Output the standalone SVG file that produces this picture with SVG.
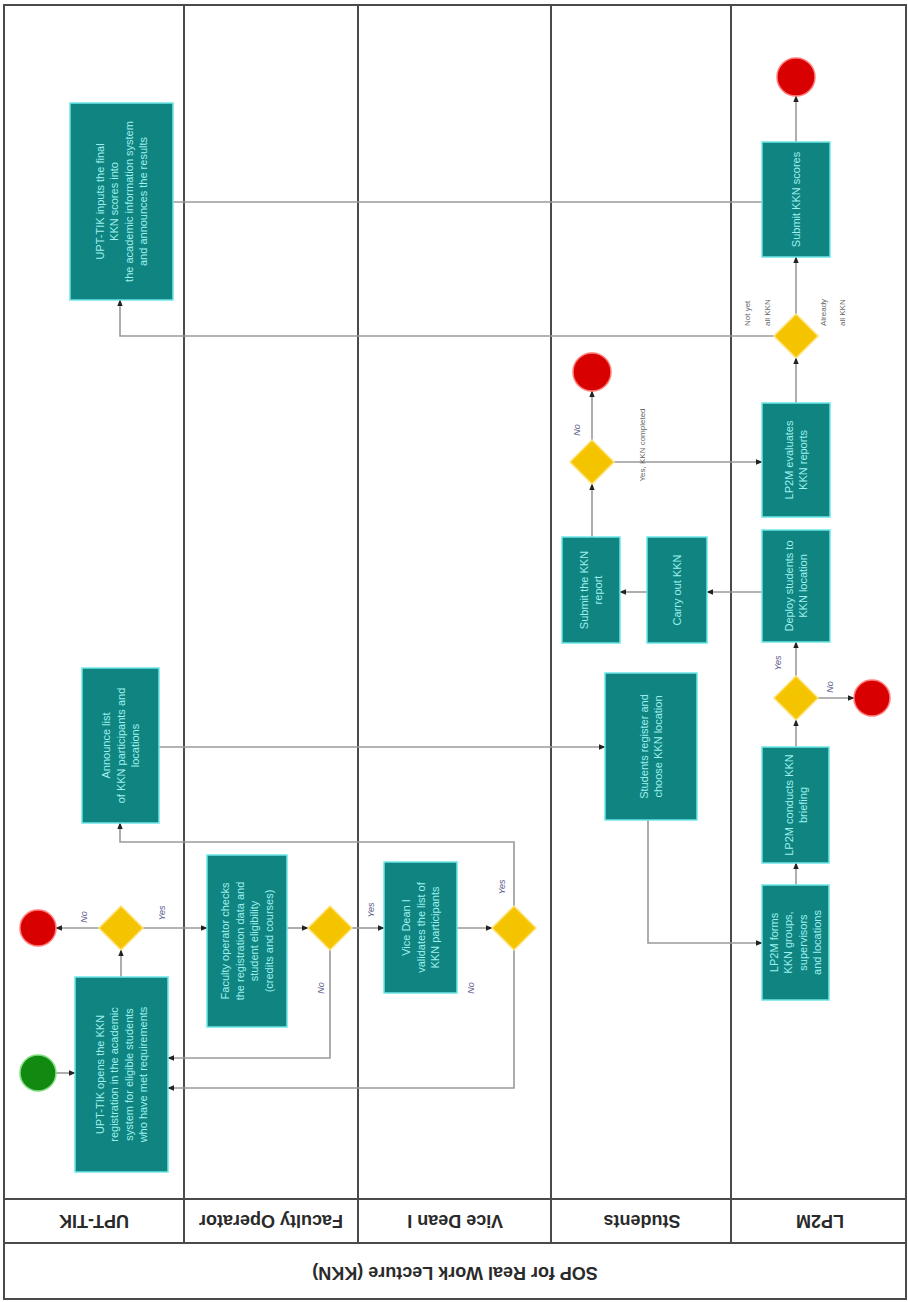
<svg xmlns="http://www.w3.org/2000/svg" width="908" height="1302" viewBox="0 0 908 1302">
<style>
.frame{fill:none;stroke:#4a4a4a;stroke-width:2}
.lane{stroke:#4a4a4a;stroke-width:2;fill:none}
.box{fill:#0f8480;stroke:#6ee6e6;stroke-width:1.5}
.bt{font-family:'Liberation Sans',Arial,sans-serif;font-size:11px;fill:#9ff0ee}
.dia{fill:#f4c400;stroke:#ffe27a;stroke-width:1.5}
.end{fill:#d80000;stroke:#ff7a7a;stroke-width:1.5}
.start{fill:#128a12;stroke:#7fe07f;stroke-width:1.5}
.cn{fill:none;stroke:#9a9a9a;stroke-width:1.6}
.lbl{font-family:'Liberation Sans',Arial,sans-serif;font-size:9px;font-style:italic;fill:#5a5a8a}
.sl{font-family:'Liberation Sans',Arial,sans-serif;font-size:8px;fill:#666}
.hdr{font-family:'Liberation Sans',Arial,sans-serif;font-size:18px;font-weight:bold;fill:#2a2a2a}
</style>
<defs>
<marker id="ah" viewBox="0 0 10 10" refX="9" refY="5" markerWidth="7" markerHeight="7" orient="auto" markerUnits="userSpaceOnUse"><path d="M0,1 L10,5 L0,9 z" fill="#222"/></marker>
</defs>
<rect width="908" height="1302" fill="#ffffff"/>
<g id="pool">
<rect class="frame" x="4" y="5" width="902" height="1294"/>
<line class="lane" x1="184" y1="5" x2="184" y2="1243"/>
<line class="lane" x1="358" y1="5" x2="358" y2="1243"/>
<line class="lane" x1="551" y1="5" x2="551" y2="1243"/>
<line class="lane" x1="731" y1="5" x2="731" y2="1243"/>
<line class="lane" x1="4" y1="1199" x2="906" y2="1199"/>
<line class="lane" x1="4" y1="1243" x2="906" y2="1243"/>
<text class="hdr" x="94" y="1221" text-anchor="middle" dominant-baseline="central" transform="rotate(180 94 1221)">UPT-TIK</text>
<text class="hdr" x="271" y="1221" text-anchor="middle" dominant-baseline="central" transform="rotate(180 271 1221)">Faculty Operator</text>
<text class="hdr" x="455" y="1221" text-anchor="middle" dominant-baseline="central" transform="rotate(180 455 1221)">Vice Dean I</text>
<text class="hdr" x="642" y="1221" text-anchor="middle" dominant-baseline="central" transform="rotate(180 642 1221)">Students</text>
<text class="hdr" x="820" y="1221" text-anchor="middle" dominant-baseline="central" transform="rotate(180 820 1221)">LP2M</text>
<text class="hdr" x="455" y="1273" text-anchor="middle" dominant-baseline="central" transform="rotate(180 455 1273)">SOP for Real Work Lecture (KKN)</text>
</g>
<g id="connectors">
<path class="cn" d="M56,1073 H75" marker-end="url(#ah)"/>
<path class="cn" d="M121,977 V950" marker-end="url(#ah)"/>
<path class="cn" d="M99,928 H56" marker-end="url(#ah)"/>
<path class="cn" d="M143,928 H207" marker-end="url(#ah)"/>
<path class="cn" d="M287,928 H308" marker-end="url(#ah)"/>
<path class="cn" d="M352,928 H384" marker-end="url(#ah)"/>
<path class="cn" d="M330,950 V1058 H168" marker-end="url(#ah)"/>
<path class="cn" d="M457,928 H492" marker-end="url(#ah)"/>
<path class="cn" d="M514,950 V1088 H168" marker-end="url(#ah)"/>
<path class="cn" d="M514,906 V842 H120 V823" marker-end="url(#ah)"/>
<path class="cn" d="M159,747 H605" marker-end="url(#ah)"/>
<path class="cn" d="M648,820 V943 H762" marker-end="url(#ah)"/>
<path class="cn" d="M796,885 V863" marker-end="url(#ah)"/>
<path class="cn" d="M796,747 V720" marker-end="url(#ah)"/>
<path class="cn" d="M818,698 H854" marker-end="url(#ah)"/>
<path class="cn" d="M796,676 V642" marker-end="url(#ah)"/>
<path class="cn" d="M762,592 H707" marker-end="url(#ah)"/>
<path class="cn" d="M647,592 H620" marker-end="url(#ah)"/>
<path class="cn" d="M592,537 V484" marker-end="url(#ah)"/>
<path class="cn" d="M592,440 V391" marker-end="url(#ah)"/>
<path class="cn" d="M614,462 H762" marker-end="url(#ah)"/>
<path class="cn" d="M796,403 V358" marker-end="url(#ah)"/>
<path class="cn" d="M796,314 V257" marker-end="url(#ah)"/>
<path class="cn" d="M796,142 V96" marker-end="url(#ah)"/>
<path class="cn" d="M774,336 H120 V300" marker-end="url(#ah)"/>
<path class="cn" d="M173,202 H762"/>
<text class="lbl" transform="translate(84,917) rotate(-90)" text-anchor="middle" dominant-baseline="central">No</text>
<text class="lbl" transform="translate(162,913) rotate(-90)" text-anchor="middle" dominant-baseline="central">Yes</text>
<text class="lbl" transform="translate(371,910) rotate(-90)" text-anchor="middle" dominant-baseline="central">Yes</text>
<text class="lbl" transform="translate(321,988) rotate(-90)" text-anchor="middle" dominant-baseline="central">No</text>
<text class="lbl" transform="translate(502,887) rotate(-90)" text-anchor="middle" dominant-baseline="central">Yes</text>
<text class="lbl" transform="translate(471,988) rotate(-90)" text-anchor="middle" dominant-baseline="central">No</text>
<text class="lbl" transform="translate(778,663) rotate(-90)" text-anchor="middle" dominant-baseline="central">Yes</text>
<text class="lbl" transform="translate(830,687) rotate(-90)" text-anchor="middle" dominant-baseline="central">No</text>
<text class="lbl" transform="translate(577,430) rotate(-90)" text-anchor="middle" dominant-baseline="central">No</text>
<text class="sl" transform="translate(642,445) rotate(-90)" text-anchor="middle" dominant-baseline="central">Yes, KKN completed</text>
<text class="sl" transform="translate(747,326) rotate(-90)" text-anchor="start" dominant-baseline="central">Not yet</text>
<text class="sl" transform="translate(767,326) rotate(-90)" text-anchor="start" dominant-baseline="central">all KKN</text>
<text class="sl" transform="translate(823,326) rotate(-90)" text-anchor="start" dominant-baseline="central">Already</text>
<text class="sl" transform="translate(842,326) rotate(-90)" text-anchor="start" dominant-baseline="central">all KKN</text>
</g>
<g id="start"><circle class="start" cx="38" cy="1073" r="18"/></g>
<g id="end-upt"><circle class="end" cx="38" cy="928" r="18"/></g>
<g id="end-lp2m-brief"><circle class="end" cx="872" cy="698" r="18"/></g>
<g id="end-students"><circle class="end" cx="592" cy="372" r="19"/></g>
<g id="end-final"><circle class="end" cx="796" cy="77" r="19"/></g>
<g id="gw-upt"><polygon class="dia" points="121,906 143,928 121,950 99,928"/></g>
<g id="gw-faculty"><polygon class="dia" points="330,906 352,928 330,950 308,928"/></g>
<g id="gw-vicedean"><polygon class="dia" points="514,906 536,928 514,950 492,928"/></g>
<g id="gw-lp2m-brief"><polygon class="dia" points="796,676 818,698 796,720 774,698"/></g>
<g id="gw-students"><polygon class="dia" points="592,440 614,462 592,484 570,462"/></g>
<g id="gw-lp2m-score"><polygon class="dia" points="796,314 818,336 796,358 774,336"/></g>
<g id="upt-open">
<rect class="box" x="75" y="977" width="93" height="195"/>
<text class="bt" transform="translate(121.5,1074.5) rotate(-90)" text-anchor="middle"><tspan x="0" y="-18">UPT-TIK opens the KKN</tspan><tspan x="0" y="-3.5">registration in the academic</tspan><tspan x="0" y="11">system for eligible students</tspan><tspan x="0" y="25.5">who have met requirements</tspan></text>
</g>
<g id="faculty-check">
<rect class="box" x="207" y="855" width="80" height="172"/>
<text class="bt" transform="translate(247,941) rotate(-90)" text-anchor="middle"><tspan x="0" y="-18">Faculty operator checks</tspan><tspan x="0" y="-3.5">the registration data and</tspan><tspan x="0" y="11">student eligibility</tspan><tspan x="0" y="25.5">(credits and courses)</tspan></text>
</g>
<g id="vicedean-validate">
<rect class="box" x="384" y="862" width="73" height="131"/>
<text class="bt" transform="translate(420.5,927.5) rotate(-90)" text-anchor="middle"><tspan x="0" y="-10.5">Vice Dean I</tspan><tspan x="0" y="4">validates the list of</tspan><tspan x="0" y="18.5">KKN participants</tspan></text>
</g>
<g id="upt-announce">
<rect class="box" x="82" y="668" width="77" height="155"/>
<text class="bt" transform="translate(120.5,745.5) rotate(-90)" text-anchor="middle"><tspan x="0" y="-10.5">Announce list</tspan><tspan x="0" y="4">of KKN participants and</tspan><tspan x="0" y="18.5">locations</tspan></text>
</g>
<g id="students-register">
<rect class="box" x="605" y="673" width="92" height="147"/>
<text class="bt" transform="translate(651,746.5) rotate(-90)" text-anchor="middle"><tspan x="0" y="-3">Students register and</tspan><tspan x="0" y="11">choose KKN location</tspan></text>
</g>
<g id="lp2m-groups">
<rect class="box" x="762" y="885" width="67" height="115"/>
<text class="bt" transform="translate(795.5,942.5) rotate(-90)" text-anchor="middle"><tspan x="0" y="-18">LP2M forms</tspan><tspan x="0" y="-3.5">KKN groups,</tspan><tspan x="0" y="11">supervisors</tspan><tspan x="0" y="25.5">and locations</tspan></text>
</g>
<g id="lp2m-briefing">
<rect class="box" x="762" y="747" width="67" height="116"/>
<text class="bt" transform="translate(795.5,805) rotate(-90)" text-anchor="middle"><tspan x="0" y="-3">LP2M conducts KKN</tspan><tspan x="0" y="11">briefing</tspan></text>
</g>
<g id="lp2m-deploy">
<rect class="box" x="762" y="530" width="68" height="112"/>
<text class="bt" transform="translate(796,586) rotate(-90)" text-anchor="middle"><tspan x="0" y="-3">Deploy students to</tspan><tspan x="0" y="11">KKN location</tspan></text>
</g>
<g id="students-carry-out">
<rect class="box" x="647" y="537" width="60" height="106"/>
<text class="bt" transform="translate(677,590) rotate(-90)" text-anchor="middle"><tspan x="0" y="4">Carry out KKN</tspan></text>
</g>
<g id="students-report">
<rect class="box" x="562" y="537" width="58" height="106"/>
<text class="bt" transform="translate(591,590) rotate(-90)" text-anchor="middle"><tspan x="0" y="-3">Submit the KKN</tspan><tspan x="0" y="11">report</tspan></text>
</g>
<g id="lp2m-evaluate">
<rect class="box" x="762" y="403" width="68" height="114"/>
<text class="bt" transform="translate(796,460) rotate(-90)" text-anchor="middle"><tspan x="0" y="-3">LP2M evaluates</tspan><tspan x="0" y="11">KKN reports</tspan></text>
</g>
<g id="lp2m-scores">
<rect class="box" x="762" y="142" width="68" height="115"/>
<text class="bt" transform="translate(796,199.5) rotate(-90)" text-anchor="middle"><tspan x="0" y="4">Submit KKN scores</tspan></text>
</g>
<g id="upt-input-scores">
<rect class="box" x="70" y="103" width="103" height="197"/>
<text class="bt" transform="translate(121.5,201.5) rotate(-90)" text-anchor="middle"><tspan x="0" y="-18">UPT-TIK inputs the final</tspan><tspan x="0" y="-3.5">KKN scores into</tspan><tspan x="0" y="11">the academic information system</tspan><tspan x="0" y="25.5">and announces the results</tspan></text>
</g>
</svg>
